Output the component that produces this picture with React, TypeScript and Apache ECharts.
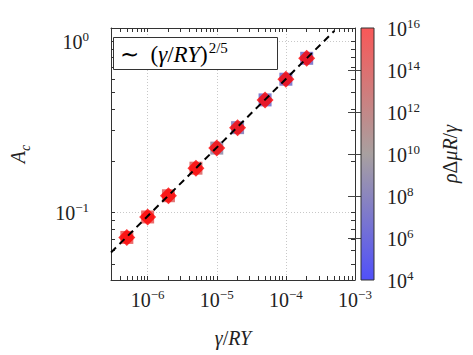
import React, { useEffect, useRef } from "react";
import * as echarts from "echarts";

// gamma / (R Y) values of the simulations
const gammaOverRY = [5e-7, 1e-6, 2e-6, 5e-6, 1e-5, 2e-5, 5e-5, 1e-4, 2e-4];
// A_c for square markers (coloured by rho*dmu*R/gamma)
const squareAc = [0.0714, 0.094, 0.125, 0.181, 0.237, 0.312, 0.453, 0.598, 0.792];
// A_c for red diamond markers
const diamondAc = [0.0714, 0.094, 0.125, 0.181, 0.237, 0.312, 0.453, 0.598, 0.792];
// colour value rho*dmu*R/gamma of each square
const rhoDmuR = [1e15, 1e15, 1e14, 1e14, 1e9, 1e8, 1e7, 1e7, 1e7];
// dashed reference line ~ (gamma/RY)^(2/5)
const fitX = [2.95e-7, 5e-4];
const fitY = [0.0583, 1.143];

// axis ticks
const xMajor = [1e-6, 1e-5, 1e-4, 1e-3];
const xTicks = [
  3e-7, 4e-7, 5e-7, 6e-7, 7e-7, 8e-7, 9e-7,
  1e-6, 2e-6, 3e-6, 4e-6, 5e-6, 6e-6, 7e-6, 8e-6, 9e-6,
  1e-5, 2e-5, 3e-5, 4e-5, 5e-5, 6e-5, 7e-5, 8e-5, 9e-5,
  1e-4, 2e-4, 3e-4, 4e-4, 5e-4, 6e-4, 7e-4, 8e-4, 9e-4, 1e-3,
];
const yMajor = [0.1, 1];
const yTicks = [0.05, 0.06, 0.07, 0.08, 0.09, 0.1, 0.2, 0.3, 0.4, 0.5, 0.6, 0.7, 0.8, 0.9, 1];
const cbLabels = [1e4, 1e6, 1e8, 1e10, 1e12, 1e14, 1e16];
const cbTicks = [1e6, 1e8, 1e10, 1e12, 1e14];

const FONT = "Liberation Serif";
const AXIS_COLOR = "#333";

const powRich = {
  b: { fontSize: 20, fontFamily: FONT, fontWeight: "normal" as const, color: "#222", verticalAlign: "bottom" as const },
  sup: { fontSize: 13, fontFamily: FONT, fontWeight: "normal" as const, color: "#222", verticalAlign: "bottom" as const, padding: [0, 0, 9, 0] },
};
const powFmt = (v: number) => {
  const e = Math.round(Math.log10(v));
  return `{b|10}{sup|${e < 0 ? "\u2212" + -e : e}}`;
};

export default function App() {
  const ref = useRef<HTMLDivElement>(null);
  useEffect(() => {
    if (!ref.current) return;
    const chart = echarts.init(ref.current, null, { renderer: "svg" });
    const grad = new echarts.graphic.LinearGradient(0, 0, 0, 1, [
      { offset: 0, color: "rgb(248,88,88)" },
      { offset: 0.5, color: "rgb(168,160,160)" },
      { offset: 1, color: "rgb(80,80,250)" },
    ]);
    const logAxisBase = {
      type: "log" as const,
      logBase: 10,
      axisLine: { onZero: false, lineStyle: { color: AXIS_COLOR, width: 1 } },
    };
    chart.setOption({
      animation: false,
      backgroundColor: "#fff",
      graphic: [
        {
          type: "rect",
          left: 113,
          top: 37,
          z: 10,
          shape: { width: 164, height: 32 },
          style: { fill: "#fff", stroke: AXIS_COLOR, lineWidth: 1 },
        },
        {
          type: "text",
          left: 120,
          top: 40,
          z: 11,
          style: {
            text: "{n|\u223c  (}{i|\u03b3}{n|/}{i|RY}{n|)}{sup|2/5}",
            rich: {
              n: { fontSize: 23, fontFamily: FONT, color: "#222", verticalAlign: "bottom" },
              i: { fontSize: 23, fontFamily: FONT, fontStyle: "italic", color: "#222", verticalAlign: "bottom" },
              sup: { fontSize: 15, fontFamily: FONT, color: "#222", verticalAlign: "bottom", padding: [0, 0, 11, 1] },
            },
          },
        },
      ],
      grid: [
        { left: 98, top: 28, width: 257, height: 252 },
        { left: 361, top: 28, width: 13, height: 252 },
      ],
      xAxis: [
        {
          ...logAxisBase,
          gridIndex: 0,
          min: 2.95e-7,
          max: 1e-3,
          position: "bottom",
          axisTick: { inside: true, length: 4, customValues: xTicks, lineStyle: { color: AXIS_COLOR } },
          axisLabel: { customValues: xMajor, formatter: powFmt, margin: 8, rich: powRich },
          splitLine: { show: false },
          name: "{i|\u03b3}{n|/}{i|RY}",
          nameLocation: "middle",
          nameGap: 48,
          nameTextStyle: {
            rich: {
              i: { fontSize: 20, fontFamily: FONT, fontStyle: "italic", color: "#222" },
              n: { fontSize: 20, fontFamily: FONT, color: "#222" },
            },
          },
        },
        {
          ...logAxisBase,
          gridIndex: 0,
          min: 2.95e-7,
          max: 1e-3,
          position: "top",
          axisTick: { inside: true, length: 4, customValues: xTicks, lineStyle: { color: AXIS_COLOR } },
          axisLabel: { show: false },
          splitLine: { show: false },
        },
        {
          type: "log",
          logBase: 10,
          gridIndex: 0,
          min: 2.95e-7,
          max: 1e-3,
          position: "bottom",
          axisLine: { show: false },
          axisTick: { show: false },
          axisLabel: { show: false },
          splitLine: { show: true, lineStyle: { color: "#c8c8c8", type: [1, 2], width: 1 } },
        },
        { type: "value", gridIndex: 1, min: 0, max: 1, show: false },
      ],
      yAxis: [
        {
          ...logAxisBase,
          gridIndex: 0,
          min: 0.0403,
          max: 1.19,
          position: "left",
          axisTick: { inside: true, length: 4, customValues: yTicks, lineStyle: { color: AXIS_COLOR } },
          axisLabel: { customValues: yMajor, formatter: powFmt, margin: 22, rich: powRich },
          splitLine: { show: false },
          name: "{A|A}{c|c}",
          nameLocation: "middle",
          nameGap: 79,
          nameTextStyle: {
            rich: {
              A: { fontSize: 20, fontFamily: FONT, fontStyle: "italic", color: "#222", verticalAlign: "bottom", padding: [0, 0, 4, 0] },
              c: { fontSize: 14, fontFamily: FONT, fontStyle: "italic", color: "#222", verticalAlign: "bottom" },
            },
          },
        },
        {
          ...logAxisBase,
          gridIndex: 0,
          min: 0.0403,
          max: 1.19,
          position: "right",
          axisTick: { inside: true, length: 4, customValues: yTicks, lineStyle: { color: AXIS_COLOR } },
          axisLabel: { show: false },
          splitLine: { show: false },
        },
        {
          type: "log",
          logBase: 10,
          gridIndex: 0,
          min: 0.0403,
          max: 1.19,
          position: "left",
          axisLine: { show: false },
          axisTick: { show: false },
          axisLabel: { show: false },
          splitLine: { show: true, lineStyle: { color: "#c8c8c8", type: [1, 2], width: 1 } },
        },
        {
          type: "log",
          logBase: 10,
          gridIndex: 1,
          min: 1e4,
          max: 1e16,
          position: "right",
          axisLine: { show: false },
          axisTick: { inside: true, length: 13, customValues: cbTicks, lineStyle: { color: "#444", width: 1 } },
          axisLabel: { customValues: cbLabels, formatter: powFmt, margin: 13, rich: powRich },
          splitLine: { show: false },
          name: "{i|\u03c1}{n|\u0394}{i|\u03bcR}{n|/}{i|\u03b3}",
          nameLocation: "middle",
          nameRotate: 90,
          nameGap: 66,
          nameTextStyle: {
            rich: {
              i: { fontSize: 20, fontFamily: FONT, fontStyle: "italic", color: "#222" },
              n: { fontSize: 20, fontFamily: FONT, color: "#222" },
            },
          },
        },
      ],
      visualMap: {
        show: false,
        seriesIndex: 0,
        dimension: 2,
        min: 4,
        max: 16,
        inRange: { color: ["rgb(80,80,250)", "rgb(168,160,160)", "rgb(248,88,88)"] },
      },
      series: [
        {
          type: "scatter",
          xAxisIndex: 0,
          yAxisIndex: 0,
          symbol: "rect",
          symbolSize: 13,
          itemStyle: { opacity: 0.95 },
          data: gammaOverRY.map((x, i) => [x, squareAc[i], Math.log10(rhoDmuR[i])]),
          z: 2,
        },
        {
          type: "scatter",
          xAxisIndex: 0,
          yAxisIndex: 0,
          symbol: "diamond",
          symbolSize: 17,
          itemStyle: { color: "#ff0000" },
          data: gammaOverRY.map((x, i) => [x, diamondAc[i]]),
          z: 3,
        },
        {
          type: "line",
          xAxisIndex: 0,
          yAxisIndex: 0,
          showSymbol: false,
          symbol: "none",
          lineStyle: { color: "#000", width: 2, type: [7, 5] },
          data: fitX.map((x, i) => [x, fitY[i]]),
          z: 4,
        },
        {
          type: "line",
          xAxisIndex: 3,
          yAxisIndex: 3,
          showSymbol: false,
          symbol: "none",
          lineStyle: { opacity: 0 },
          data: [[0.5, 1e10]],
          z: 1,
          markArea: {
            silent: true,
            itemStyle: { color: grad, borderColor: "#333", borderWidth: 1 },
            data: [[{ coord: [0, 1e4] }, { coord: [1, 1e16] }]],
          },
        },
      ],
    });
    return () => chart.dispose();
  }, []);
  return <div ref={ref} style={{ position: "fixed", left: 0, top: 0, width: 473, height: 355 }} />;
}
